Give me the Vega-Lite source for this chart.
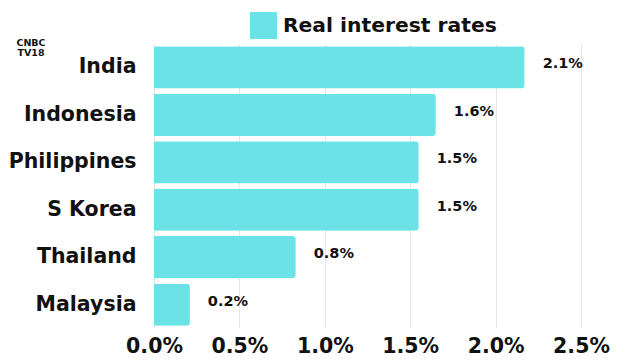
{
  "$schema": "https://vega.github.io/schema/vega-lite/v6.json",
  "width": 427,
  "height": 284,
  "autosize": {"type": "none"},
  "padding": {"left": 154, "top": 44, "right": 59, "bottom": 32},
  "background": "white",
  "config": {"view": {"stroke": null}},
  "title": {
    "text": ["CNBC", "TV18"],
    "anchor": "start",
    "frame": "group",
    "align": "center",
    "dx": -123,
    "dy": 45,
    "offset": 0,
    "font": "DejaVu Sans",
    "fontSize": 9.5,
    "fontWeight": "bold",
    "lineHeight": 10,
    "color": "#111111"
  },
  "data": {
    "values": [
      {"country": "India", "rate": 0.0217, "label": "2.1%"},
      {"country": "Indonesia", "rate": 0.0165, "label": "1.6%"},
      {"country": "Philippines", "rate": 0.0155, "label": "1.5%"},
      {"country": "S Korea", "rate": 0.0155, "label": "1.5%"},
      {"country": "Thailand", "rate": 0.0083, "label": "0.8%"},
      {"country": "Malaysia", "rate": 0.0021, "label": "0.2%"}
    ]
  },
  "encoding": {
    "y": {
      "field": "country",
      "type": "nominal",
      "sort": null,
      "scale": {"paddingInner": 0.11, "paddingOuter": 0.05},
      "axis": {
        "title": null,
        "domain": false,
        "ticks": false,
        "tickSize": 0,
        "grid": false,
        "labelFont": "DejaVu Sans",
        "labelFontSize": 20.5,
        "labelFontWeight": "bold",
        "labelColor": "#111111",
        "labelPadding": 18
      }
    }
  },
  "layer": [
    {
      "mark": {"type": "bar", "cornerRadiusEnd": 3},
      "encoding": {
        "x": {
          "field": "rate",
          "type": "quantitative",
          "scale": {"domain": [0, 0.025], "nice": false},
          "axis": {
            "title": null,
            "format": ".1%",
            "values": [0, 0.005, 0.01, 0.015, 0.02, 0.025],
            "domain": false,
            "ticks": false,
            "tickSize": 0,
            "grid": true,
            "gridColor": "#e6e6e6",
            "gridWidth": 1,
            "labelFont": "DejaVu Sans",
            "labelFontSize": 20.5,
            "labelFontWeight": "bold",
            "labelColor": "#111111",
            "labelPadding": 8,
            "labelFlush": false
          }
        },
        "color": {
          "datum": "Real interest rates",
          "scale": {"range": ["#6ae2e6"]},
          "legend": {
            "title": null,
            "orient": "none",
            "legendX": 96,
            "legendY": -32,
            "padding": 0,
            "symbolType": "square",
            "symbolSize": 729,
            "symbolStrokeWidth": 0,
            "symbolOpacity": 1,
            "labelFont": "DejaVu Sans",
            "labelFontSize": 20.3,
            "labelFontWeight": "bold",
            "labelColor": "#111111",
            "labelOffset": 6,
            "labelLimit": 400
          }
        }
      }
    },
    {
      "mark": {
        "type": "text",
        "align": "left",
        "baseline": "middle",
        "dx": 18,
        "dy": -3,
        "font": "DejaVu Sans",
        "fontSize": 14.5,
        "fontWeight": "bold",
        "color": "#111111"
      },
      "encoding": {
        "x": {"field": "rate", "type": "quantitative"},
        "text": {"field": "label"}
      }
    }
  ]
}
